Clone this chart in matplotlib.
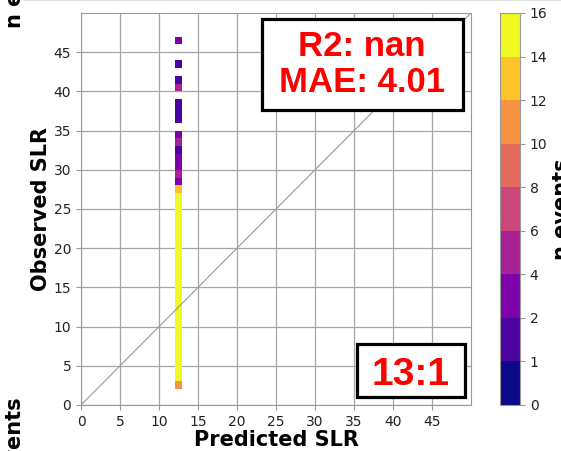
import numpy as np
import matplotlib
matplotlib.use('Agg')
import matplotlib.pyplot as plt
from matplotlib.colors import BoundaryNorm
from matplotlib.lines import Line2D
from matplotlib.patches import Rectangle

# predicted SLR is constant for this site -> one column of bins
predicted_slr = 12.5
# observed SLR bin (lower edge) and number of events in it
observed_bins = [2, 3, 4, 5, 6, 7, 8, 9, 10, 11, 12, 13, 14, 15, 16, 17, 18, 19,
                 20, 21, 22, 23, 24, 25, 26, 27, 28, 29, 30, 31, 32, 33, 34,
                 36, 37, 38, 40, 41, 43, 46]
n_events = [11, 15, 15, 15, 15, 15, 15, 15, 15, 15, 15, 15, 15, 15, 15, 15, 15, 15,
            15, 15, 15, 15, 15, 15, 15, 13, 3, 5, 3, 3, 1, 5, 3,
            1, 1, 1, 5, 1, 1, 3]
cbar_levels = [0, 1, 2, 4, 6, 8, 10, 12, 14, 16]
ticks = [0, 5, 10, 15, 20, 25, 30, 35, 40, 45]
r2_text = 'R2: nan'
mae_text = 'MAE: 4.01'
ratio_text = '13:1'

edge_gray = '#999999'

fig = plt.figure(figsize=(5.61, 4.51), dpi=100)
ax = fig.add_axes([81 / 561, 46 / 451, 390 / 561, 392 / 451])
cax = fig.add_axes([500 / 561, 46 / 451, 20 / 561, 392 / 451])

cmap = plt.get_cmap('plasma')
norm = BoundaryNorm(cbar_levels, cmap.N)
bins = np.arange(0, 51, 1)
x = np.full(len(observed_bins), predicted_slr)
y = np.array(observed_bins) + 0.5
h = ax.hist2d(x, y, bins=[bins, bins], weights=n_events, cmin=1,
              cmap=cmap, norm=norm)

ax.plot([0, 50], [0, 50], color='#999999', lw=0.8, zorder=3)
ax.set_axisbelow(True)
ax.grid(True, color='#a6a6a6', lw=0.9)
ax.set_xlim(0, 50)
ax.set_ylim(0, 50)
ax.set_xticks(ticks)
ax.set_yticks(ticks)
ax.tick_params(labelsize=10, color=edge_gray, labelcolor='#222222')
for s in ax.spines.values():
    s.set_color(edge_gray)
ax.set_xlabel('Predicted SLR', fontsize=15, fontweight='bold', labelpad=1)
ax.set_ylabel('Observed SLR', fontsize=15, fontweight='bold', labelpad=2)

# score boxes
ax.add_patch(Rectangle((0.464, 0.753), 0.515, 0.232, transform=ax.transAxes,
                       facecolor='white', edgecolor='black', lw=2.3, zorder=4))
ax.text(0.72, 0.8686, r2_text + '\n' + mae_text, transform=ax.transAxes,
        ha='center', va='center', color='red', fontsize=25, fontweight='bold',
        family='Liberation Sans', linespacing=1.13, zorder=5)
ax.add_patch(Rectangle((0.708, 0.020), 0.277, 0.136, transform=ax.transAxes,
                       facecolor='white', edgecolor='black', lw=2.3, zorder=4))
ax.text(0.846, 0.051, ratio_text, transform=ax.transAxes,
        ha='center', va='baseline', color='red', fontsize=28, fontweight='bold',
        family='Liberation Sans', zorder=5)

cbar = fig.colorbar(h[3], cax=cax, ticks=cbar_levels)
cbar.ax.tick_params(labelsize=10, color=edge_gray, labelcolor='#222222')
cbar.outline.set_edgecolor(edge_gray)
fig.text(552 / 561, (451 - 209) / 451, 'n events', rotation=90,
         ha='left', va='center', fontsize=15, fontweight='bold')

# pieces of the neighbouring panels that fall into this crop
fig.text(5 / 561, (451 - 28) / 451, 'n events', rotation=90,
         ha='left', va='bottom', fontsize=15, fontweight='bold')
fig.text(5 / 561, (451 - 397) / 451, 'n events', rotation=90,
         ha='left', va='top', fontsize=15, fontweight='bold')
fig.add_artist(Line2D([25 / 561, 1], [0.999, 0.999], color='#e0e0e0', lw=1.5))

fig.savefig('out.png', dpi=100)
